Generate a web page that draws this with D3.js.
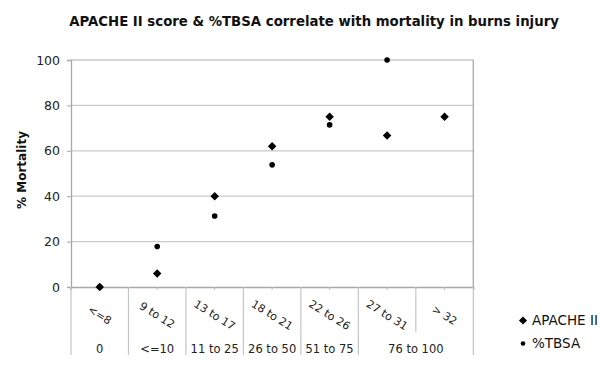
<!DOCTYPE html>
<html>
<head>
<meta charset="utf-8">
<script src="https://cdn.jsdelivr.net/npm/d3@7"></script>
<style>
  html, body { margin: 0; padding: 0; background: #fff; }
  svg { display: block; font-family: "DejaVu Sans", Verdana, sans-serif; }
</style>
</head>
<body>
<svg id="chart" width="604" height="368"></svg>
<script>
// APACHE II score bands (first category row) and their mortality
const apacheCats = ["<=8", "9 to 12", "13 to 17", "18 to 21", "22 to 26", "27 to 31", "> 32"];
const apacheValues = [0, 6, 40, 62, 75, 66.7, 75];

// %TBSA bands (second category row); the last band spans two columns
const tbsaCats = ["0", "<=10", "11 to 25", "26 to 50", "51 to 75", "76 to 100"];
const tbsaSpans = [1, 1, 1, 1, 1, 2];
const tbsaValues = [0, 17.8, 31.3, 53.8, 71.4, 100];

const yTicks = [0, 20, 40, 60, 80, 100];

(function draw() {
  const svg = d3.select("#chart");
  const plotLeft = 71, plotRight = 473.3, plotTop = 60, plotBottom = 287;

  const x = d3.scaleBand().domain(apacheCats).range([plotLeft, plotRight]).paddingInner(0).paddingOuter(0);
  const y = d3.scaleLinear().domain([0, 100]).range([plotBottom, plotTop]);
  const cx = c => x(c) + x.bandwidth() / 2;

  // column offsets for the %TBSA groups
  const tbsaStart = [];
  tbsaSpans.reduce((acc, s, i) => { tbsaStart[i] = acc; return acc + s; }, 0);

  // title
  svg.append("text")
    .attr("x", 314).attr("y", 26)
    .attr("text-anchor", "middle")
    .attr("font-weight", "bold")
    .attr("font-size", 13.3)
    .attr("fill", "#111")
    .text("APACHE II score & %TBSA correlate with mortality in burns injury");

  // horizontal gridlines
  svg.append("g")
    .selectAll("line")
    .data(yTicks.filter(d => d > 0))
    .join("line")
    .attr("x1", plotLeft).attr("x2", plotRight)
    .attr("y1", d => y(d)).attr("y2", d => y(d))
    .attr("stroke", "#c9c9c9").attr("stroke-width", 1.3);

  // y axis
  const yAxis = svg.append("g")
    .attr("transform", `translate(${plotLeft},0)`)
    .call(d3.axisLeft(y).tickValues(yTicks).tickSize(4).tickFormat(d3.format("d")));
  yAxis.select(".domain").attr("stroke", "#a8a8a8").attr("stroke-width", 1.3);
  yAxis.selectAll(".tick line").attr("stroke", "#a8a8a8");
  yAxis.selectAll(".tick text")
    .attr("x", -11)
    .attr("font-size", 12.5)
    .attr("font-family", "DejaVu Sans, Verdana, sans-serif")
    .attr("fill", "#222");

  // right border of the plot area
  svg.append("line")
    .attr("x1", plotRight).attr("x2", plotRight).attr("y1", plotTop).attr("y2", plotBottom)
    .attr("stroke", "#a8a8a8").attr("stroke-width", 1.3);

  // x axis baseline with small ticks at category centres
  const xAxis = svg.append("g")
    .attr("transform", `translate(0,${plotBottom})`)
    .call(d3.axisBottom(x).tickSize(3).tickFormat(""));
  xAxis.select(".domain").attr("stroke", "#a8a8a8").attr("stroke-width", 1.3);
  xAxis.selectAll(".tick line").attr("stroke", "#c0c0c0");

  // category table separators
  const tableBottom = 355, row1Bottom = 332;
  const bounds = d3.range(apacheCats.length + 1).map(i => plotLeft + i * x.bandwidth());
  const groupBounds = new Set(tbsaStart.concat([apacheCats.length]));
  svg.append("g")
    .selectAll("line")
    .data(bounds.map((b, i) => ({ b, full: groupBounds.has(i) })))
    .join("line")
    .attr("x1", d => d.b).attr("x2", d => d.b)
    .attr("y1", plotBottom).attr("y2", d => d.full ? tableBottom : row1Bottom)
    .attr("stroke", "#c4c4c4").attr("stroke-width", 1.2);

  // first row: APACHE II bands, rotated
  svg.append("g")
    .selectAll("text")
    .data(apacheCats)
    .join("text")
    .attr("transform", d => `translate(${cx(d)},315) rotate(32)`)
    .attr("text-anchor", "middle")
    .attr("dy", "0.35em")
    .attr("font-size", 11)
    .attr("fill", "#222")
    .text(d => d);

  // second row: %TBSA bands
  svg.append("g")
    .selectAll("text")
    .data(tbsaCats)
    .join("text")
    .attr("x", (d, i) => plotLeft + (tbsaStart[i] + tbsaSpans[i] / 2) * x.bandwidth())
    .attr("y", 349)
    .attr("text-anchor", "middle")
    .attr("dy", "0.35em")
    .attr("font-size", 11.5)
    .attr("fill", "#222")
    .text(d => d);

  // y axis title
  svg.append("text")
    .attr("transform", "translate(22,170) rotate(-90)")
    .attr("text-anchor", "middle")
    .attr("dy", "0.35em")
    .attr("font-weight", "bold")
    .attr("font-size", 12)
    .attr("fill", "#111")
    .text("% Mortality");

  const diamond = d3.symbol().type(d3.symbolDiamond2).size(46);

  // %TBSA points (drawn at the first column of each group)
  svg.append("g")
    .selectAll("circle")
    .data(tbsaValues)
    .join("circle")
    .attr("cx", (d, i) => cx(apacheCats[tbsaStart[i]]))
    .attr("cy", d => y(d))
    .attr("r", 2.8)
    .attr("fill", "#000");

  // APACHE II points
  svg.append("g")
    .selectAll("path")
    .data(apacheValues)
    .join("path")
    .attr("transform", (d, i) => `translate(${cx(apacheCats[i])},${y(d)})`)
    .attr("d", diamond)
    .attr("fill", "#000");

  // legend
  const legend = svg.append("g");
  legend.append("path")
    .attr("transform", "translate(523,320.5)")
    .attr("d", d3.symbol().type(d3.symbolDiamond2).size(42))
    .attr("fill", "#000");
  legend.append("text")
    .attr("x", 532).attr("y", 320.5).attr("dy", "0.35em")
    .attr("font-size", 13.5).attr("fill", "#111")
    .text("APACHE II");
  legend.append("circle")
    .attr("cx", 523).attr("cy", 343.5).attr("r", 2.3)
    .attr("fill", "#000");
  legend.append("text")
    .attr("x", 532).attr("y", 343.5).attr("dy", "0.35em")
    .attr("font-size", 13.5).attr("fill", "#111")
    .text("%TBSA");
})();
</script>
</body>
</html>
